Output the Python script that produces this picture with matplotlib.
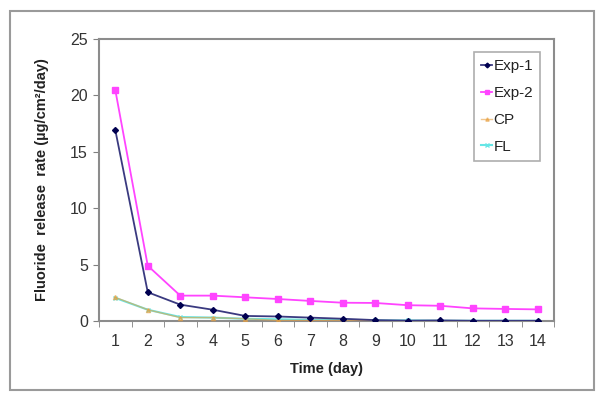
import matplotlib.pyplot as plt
from matplotlib.patches import Rectangle
import numpy as np

days = list(range(1, 15))
exp1 = [16.95, 2.55, 1.45, 1.0, 0.45, 0.4, 0.3, 0.2, 0.08, 0.03, 0.05, 0.02, 0.02, 0.02]
exp2 = [20.5, 4.9, 2.25, 2.25, 2.1, 1.95, 1.78, 1.62, 1.6, 1.4, 1.35, 1.12, 1.07, 1.03]
cp = [2.1, 1.0, 0.3, 0.3, 0.2, 0.05, 0.05, 0.05, 0.0, 0.0, 0.0, 0.0, 0.0, 0.0]
fl = [2.05, 1.0, 0.35, 0.3, 0.2, 0.15, 0.1, 0.1, 0.05, 0.05, 0.02, 0.02, 0.02, 0.02]

plt.rcParams['font.family'] = ['Liberation Sans', 'DejaVu Sans']

fig = plt.figure(figsize=(6.02, 4), dpi=100)
fig.patches.append(Rectangle((10/602, 10/400), 584/602, 379/400, transform=fig.transFigure,
                             fill=False, edgecolor='#9a9a9a', linewidth=1.5))
ax = fig.add_axes([99/602, 79/400, 455/602, 282/400])

x = np.arange(len(days))
ax.plot(x, fl, color='#66E6E6', marker='x', markersize=3, linewidth=1.5, label='FL', zorder=2)
ax.plot(x, cp, color='#E8A040', marker='^', markersize=3, linewidth=1.0, alpha=0.6, label='CP', zorder=3)
ax.plot(x, exp2, color='#FF44FF', marker='s', markersize=4, linewidth=1.3, label='Exp-2', zorder=4)
ax.plot(x, exp1, color='#3A3A80', marker='D', markersize=3, linewidth=1.3, label='Exp-1', zorder=5,
        markerfacecolor='#000050', markeredgecolor='#000050')

ax.set_xlim(-0.5, len(days) - 0.5)
ax.set_ylim(0, 25)
ax.set_yticks(range(0, 26, 5))
ax.set_xticks(x)
ax.set_xticklabels([str(d) for d in days])
ax.set_xticks(np.arange(-0.5, len(days), 1), minor=True)
ax.tick_params(axis='x', which='major', length=0, pad=9, labelsize=11.5, colors='#333333')
ax.tick_params(axis='x', which='minor', length=4, color='#808080', direction='out')
ax.tick_params(axis='y', length=4, color='#808080', labelsize=11.5, labelcolor='#333333', pad=4)
for s in ax.spines.values():
    s.set_color('#8c8c8c')
    s.set_linewidth(1.5)

ax.set_xlabel('Time (day)', fontsize=10.5, fontweight='bold', color='#222222', labelpad=10)
ax.set_ylabel('Fluoride  release  rate (\u00b5g/cm\u00b2/day)', fontsize=10.5, fontweight='bold',
              color='#222222', labelpad=15)

h, l = ax.get_legend_handles_labels()
leg = fig.legend(h[::-1], l[::-1], loc='upper right', bbox_to_anchor=(540/602, 348/400),
                 bbox_transform=fig.transFigure,
                 frameon=True, fancybox=False, edgecolor='#9a9a9a', fontsize=11, handlelength=0.7,
                 handletextpad=0.1, labelspacing=0.85, borderpad=0.45, borderaxespad=0, markerscale=0.8)
leg.get_frame().set_linewidth(1.2)
for t in leg.get_texts():
    t.set_color('#222222')

fig.savefig('out.png', dpi=100)
